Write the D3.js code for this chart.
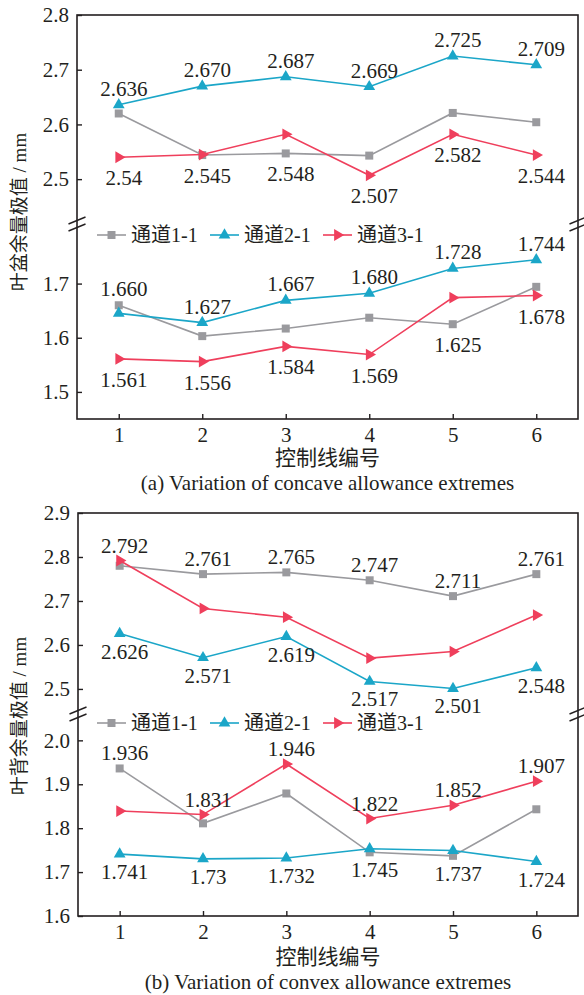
<!DOCTYPE html>
<html>
<head>
<meta charset="utf-8">
<script src="https://cdn.jsdelivr.net/npm/d3@7/dist/d3.min.js"></script>
<style>
  body { margin: 0; background: #fff; }
  svg text { font-family: "Liberation Serif", "Times New Roman", "Noto Sans CJK SC", serif; fill: #231f20; }
</style>
</head>
<body>
<svg id="chart" width="584" height="995"></svg>
<script>
// ---------------- data ----------------
const controlLines = [1, 2, 3, 4, 5, 6];
const seriesNames = ["通道1-1", "通道2-1", "通道3-1"];

// (a) concave side: upper segment = max, lower segment = min
const concaveMaxCh1 = [2.620, 2.544, 2.547, 2.543, 2.621, 2.604];
const concaveMaxCh2 = [2.636, 2.670, 2.687, 2.669, 2.725, 2.709];
const concaveMaxCh3 = [2.540, 2.545, 2.582, 2.507, 2.582, 2.544];
const concaveMinCh1 = [1.660, 1.603, 1.617, 1.637, 1.625, 1.694];
const concaveMinCh2 = [1.645, 1.628, 1.669, 1.682, 1.728, 1.744];
const concaveMinCh3 = [1.561, 1.556, 1.584, 1.569, 1.674, 1.678];

const concaveMaxLabelsCh1 = [null, null, "2.548", null, null, null];
const concaveMaxLabelsCh2 = ["2.636", "2.670", "2.687", "2.669", "2.725", "2.709"];
const concaveMaxLabelsCh3 = ["2.54", "2.545", null, "2.507", "2.582", "2.544"];
const concaveMinLabelsCh1 = ["1.660", null, null, null, "1.625", null];
const concaveMinLabelsCh2 = [null, "1.627", "1.667", "1.680", "1.728", "1.744"];
const concaveMinLabelsCh3 = ["1.561", "1.556", "1.584", "1.569", null, "1.678"];

// (b) convex side
const convexMaxCh1 = [2.780, 2.761, 2.765, 2.747, 2.711, 2.761];
const convexMaxCh2 = [2.626, 2.571, 2.619, 2.517, 2.501, 2.548];
const convexMaxCh3 = [2.792, 2.683, 2.663, 2.570, 2.585, 2.668];
const convexMinCh1 = [1.936, 1.811, 1.879, 1.745, 1.737, 1.843];
const convexMinCh2 = [1.741, 1.730, 1.732, 1.753, 1.749, 1.724];
const convexMinCh3 = [1.839, 1.831, 1.946, 1.822, 1.852, 1.907];

const convexMaxLabelsCh1 = [null, "2.761", "2.765", "2.747", "2.711", "2.761"];
const convexMaxLabelsCh2 = ["2.626", "2.571", "2.619", "2.517", "2.501", "2.548"];
const convexMaxLabelsCh3 = ["2.792", null, null, null, null, null];
const convexMinLabelsCh1 = ["1.936", null, null, "1.745", "1.737", null];
const convexMinLabelsCh2 = ["1.741", "1.73", "1.732", null, null, "1.724"];
const convexMinLabelsCh3 = [null, "1.831", "1.946", "1.822", "1.852", "1.907"];

const concaveTicks = [1.5, 1.6, 1.7, 2.5, 2.6, 2.7, 2.8];
const convexTicks = [1.6, 1.7, 1.8, 1.9, 2.0, 2.5, 2.6, 2.7, 2.8, 2.9];

// ---------------- style ----------------
const colors = ["#9a9a9e", "#1ba6c8", "#ef3f5c"];
const markers = ["square", "triUp", "triRight"];
const INK = "#231f20";

const svg = d3.select("#chart");

function markerPath(kind) {
    if (kind === "square") return d3.symbol(d3.symbolSquare, 64)();
    return d3.symbol(d3.symbolTriangle, 60)();
}
function addMarker(sel, kind, color) {
    return sel.append("path")
        .attr("d", markerPath(kind))
        .attr("fill", color)
        .attr("transform", kind === "triRight" ? "rotate(90)" : null);
}

function drawPanel(p) {
    const g = svg.append("g");

    const x = d3.scaleLinear().domain([0.5, 6.5]).range([p.left, p.right]);
    const y = d3.scaleLinear()
        .domain([p.lowDomain[0], p.lowDomain[1], p.highDomain[0], p.highDomain[1]])
        .range([p.bottom, p.breakY, p.breakY, p.top]);

    // frame
    g.append("rect")
        .attr("x", p.left).attr("y", p.top)
        .attr("width", p.right - p.left).attr("height", p.bottom - p.top)
        .attr("fill", "none").attr("stroke", INK).attr("stroke-width", 1.6);

    // y axis
    const ya = g.append("g")
        .attr("transform", `translate(${p.left},0)`)
        .call(d3.axisLeft(y).tickValues(p.ticks).tickFormat(d3.format(".1f"))
            .tickSizeInner(-5).tickSizeOuter(0).tickPadding(8));
    // x axis
    const xa = g.append("g")
        .attr("transform", `translate(0,${p.bottom})`)
        .call(d3.axisBottom(x).tickValues(controlLines).tickFormat(d3.format("d"))
            .tickSizeInner(-5).tickSizeOuter(0).tickPadding(8));
    [ya, xa].forEach(a => {
        a.select(".domain").remove();
        a.attr("font-family", null).attr("font-size", null);
        a.selectAll("line").attr("stroke", INK).attr("stroke-width", 1.4);
        a.selectAll("text").attr("fill", INK).style("font-size", "21px");
    });

    // axis break marks
    [p.left, p.right].forEach(ax => {
        [-3.5, 3.5].forEach(off => {
            g.append("line")
                .attr("x1", ax - 8.5).attr("y1", p.breakY + off + 3.5)
                .attr("x2", ax + 8.5).attr("y2", p.breakY + off - 3.5)
                .attr("stroke", INK).attr("stroke-width", 1.4);
        });
    });

    const line = d3.line().x((d, i) => x(controlLines[i])).y(d => y(d));

    // series
    p.segments.forEach(seg => {
        seg.values.forEach((vals, s) => {
            g.append("path")
                .attr("d", line(vals))
                .attr("fill", "none")
                .attr("stroke", colors[s])
                .attr("stroke-width", 1.6);
            vals.forEach((v, i) => {
                const m = g.append("g").attr("transform", `translate(${x(controlLines[i])},${y(v)})`);
                addMarker(m, markers[s], colors[s]);
            });
        });
    });

    // value labels: above when the point is the highest at its x, otherwise below
    p.segments.forEach(seg => {
        seg.labels.forEach((labs, s) => {
            labs.forEach((t, i) => {
                if (t === null) return;
                const v = seg.values[s][i];
                const highest = seg.values.every(vs => vs[i] <= v);
                g.append("text")
                    .attr("x", x(controlLines[i]) + 5)
                    .attr("y", y(v) + (highest ? p.aboveDy : p.belowDy))
                    .attr("text-anchor", "middle")
                    .style("font-size", "21px")
                    .text(t);
            });
        });
    });

    // legend
    const lx = [97, 210, 323];
    seriesNames.forEach((name, s) => {
        const lg = g.append("g").attr("transform", `translate(${lx[s]},${p.legendY})`);
        lg.append("line").attr("x1", 0).attr("x2", 29).attr("y1", 0).attr("y2", 0)
            .attr("stroke", colors[s]).attr("stroke-width", 1.6);
        addMarker(lg.append("g").attr("transform", "translate(14.5,0)"), markers[s], colors[s]);
        lg.append("text").attr("x", 34).attr("y", 7).style("font-size", "20px").text(name);
    });

    // titles
    const cx = (p.left + p.right) / 2;
    g.append("text")
        .attr("transform", `translate(${p.ylabelX},${p.ylabelY}) rotate(-90)`)
        .attr("text-anchor", "middle")
        .style("font-size", "19px")
        .text(p.ylabel);
    g.append("text")
        .attr("x", cx).attr("y", p.bottom + p.titleDy)
        .attr("text-anchor", "middle")
        .style("font-size", "21px")
        .text("控制线编号");
    g.append("text")
        .attr("x", cx).attr("y", p.bottom + p.captionDy)
        .attr("text-anchor", "middle")
        .style("font-size", "21px")
        .text(p.caption);
}

drawPanel({
    left: 77, right: 578, top: 15, bottom: 419, breakY: 224,
    highDomain: [2.418, 2.8], lowDomain: [1.45, 1.81],
    ticks: concaveTicks,
    segments: [
        { values: [concaveMaxCh1, concaveMaxCh2, concaveMaxCh3],
          labels: [concaveMaxLabelsCh1, concaveMaxLabelsCh2, concaveMaxLabelsCh3] },
        { values: [concaveMinCh1, concaveMinCh2, concaveMinCh3],
          labels: [concaveMinLabelsCh1, concaveMinLabelsCh2, concaveMinLabelsCh3] }
    ],
    aboveDy: -9, belowDy: 28,
    legendY: 235,
    ylabel: "叶盆余量极值 / mm", ylabelX: 26, ylabelY: 212,
    titleDy: 46, captionDy: 71,
    caption: "(a) Variation of concave allowance extremes"
});

drawPanel({
    left: 78, right: 578, top: 513, bottom: 916, breakY: 714,
    highDomain: [2.443, 2.9], lowDomain: [1.6, 2.06],
    ticks: convexTicks,
    segments: [
        { values: [convexMaxCh1, convexMaxCh2, convexMaxCh3],
          labels: [convexMaxLabelsCh1, convexMaxLabelsCh2, convexMaxLabelsCh3] },
        { values: [convexMinCh1, convexMinCh2, convexMinCh3],
          labels: [convexMinLabelsCh1, convexMinLabelsCh2, convexMinLabelsCh3] }
    ],
    aboveDy: -8, belowDy: 25,
    legendY: 723,
    ylabel: "叶背余量极值 / mm", ylabelX: 26, ylabelY: 716,
    titleDy: 48, captionDy: 73,
    caption: "(b) Variation of convex allowance extremes"
});
</script>
</body>
</html>
